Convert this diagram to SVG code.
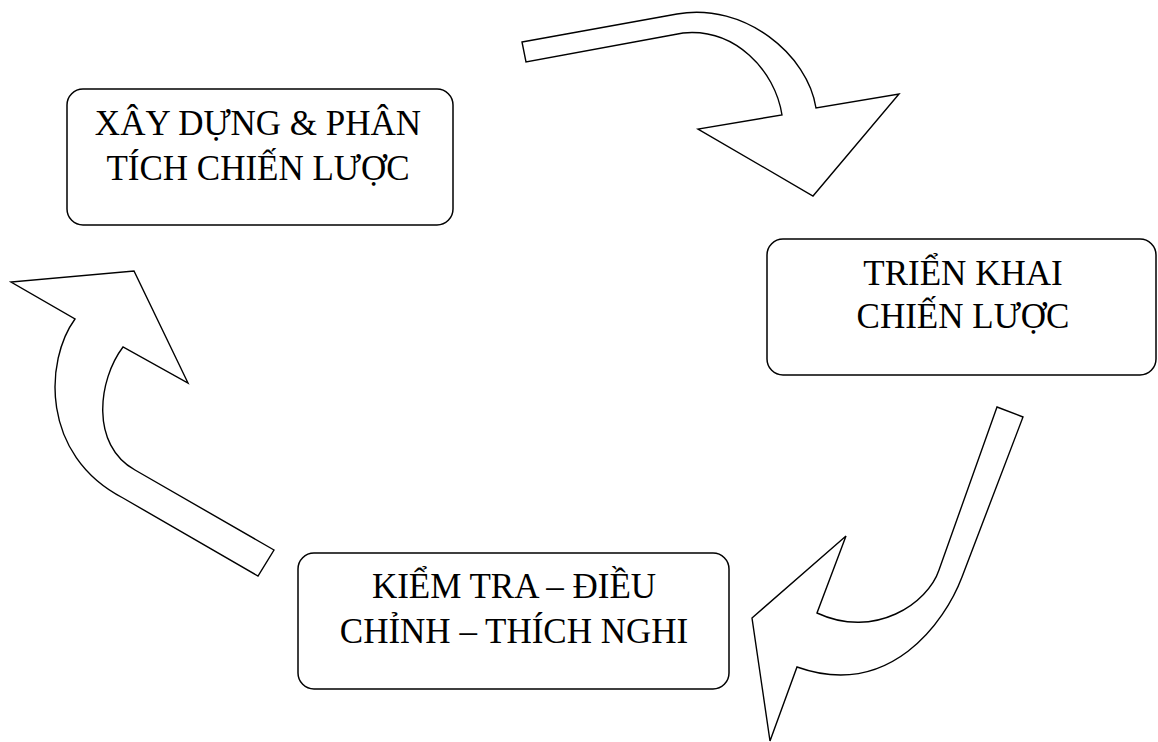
<svg xmlns="http://www.w3.org/2000/svg" width="1158" height="742" viewBox="0 0 1158 742">
  <style>
    .box { fill: #ffffff; stroke: #000000; stroke-width: 1.5; }
    .lbl { font-family: "Liberation Serif", "Times New Roman", serif; font-size: 35px; fill: #000000; text-anchor: middle; }
    .arrow { fill: #ffffff; stroke: #000000; stroke-width: 1.4; stroke-linejoin: miter; }
  </style>
  <rect width="1158" height="742" fill="#ffffff"/>

  <!-- curved block arrows forming the cycle -->
  <g id="connectors">
    <path id="arrow-top" class="arrow" d="M522,42 L677,14 C 745,2 808,55 816,108 L899,94 L813,196 L698,129 L782,115 C 775,70 735,28 683,33 L526,62 Z"/>
    <path id="arrow-right" class="arrow" d="M997,407 L939,570 C 928,603 875,640 817,613 L846,536 L752,618 L770,741 L797,667 C 890,700 945,622 962,577 L1023,417 Z"/>
    <path id="arrow-left" class="arrow" d="M274,550 L135,470 C 90,445 98,380 123,347 L188,383 L134,271 L11,282 L75,319 C 45,360 40,455 123,498 L258,576 Z"/>
  </g>

  <g id="node-xay-dung">
    <rect class="box" x="67" y="89" width="386" height="136" rx="16" ry="16"/>
    <text class="lbl" x="258" y="135">XÂY DỰNG &amp; PHÂN</text>
    <text class="lbl" x="258" y="180">TÍCH CHIẾN LƯỢC</text>
  </g>

  <g id="node-trien-khai">
    <rect class="box" x="767" y="239" width="389" height="136" rx="16" ry="16"/>
    <text class="lbl" x="963" y="285">TRIỂN KHAI</text>
    <text class="lbl" x="963" y="328">CHIẾN LƯỢC</text>
  </g>

  <g id="node-kiem-tra">
    <rect class="box" x="298" y="553" width="431" height="136" rx="16" ry="16"/>
    <text class="lbl" x="514" y="598">KIỂM TRA – ĐIỀU</text>
    <text class="lbl" x="514" y="643">CHỈNH – THÍCH NGHI</text>
  </g>
</svg>
